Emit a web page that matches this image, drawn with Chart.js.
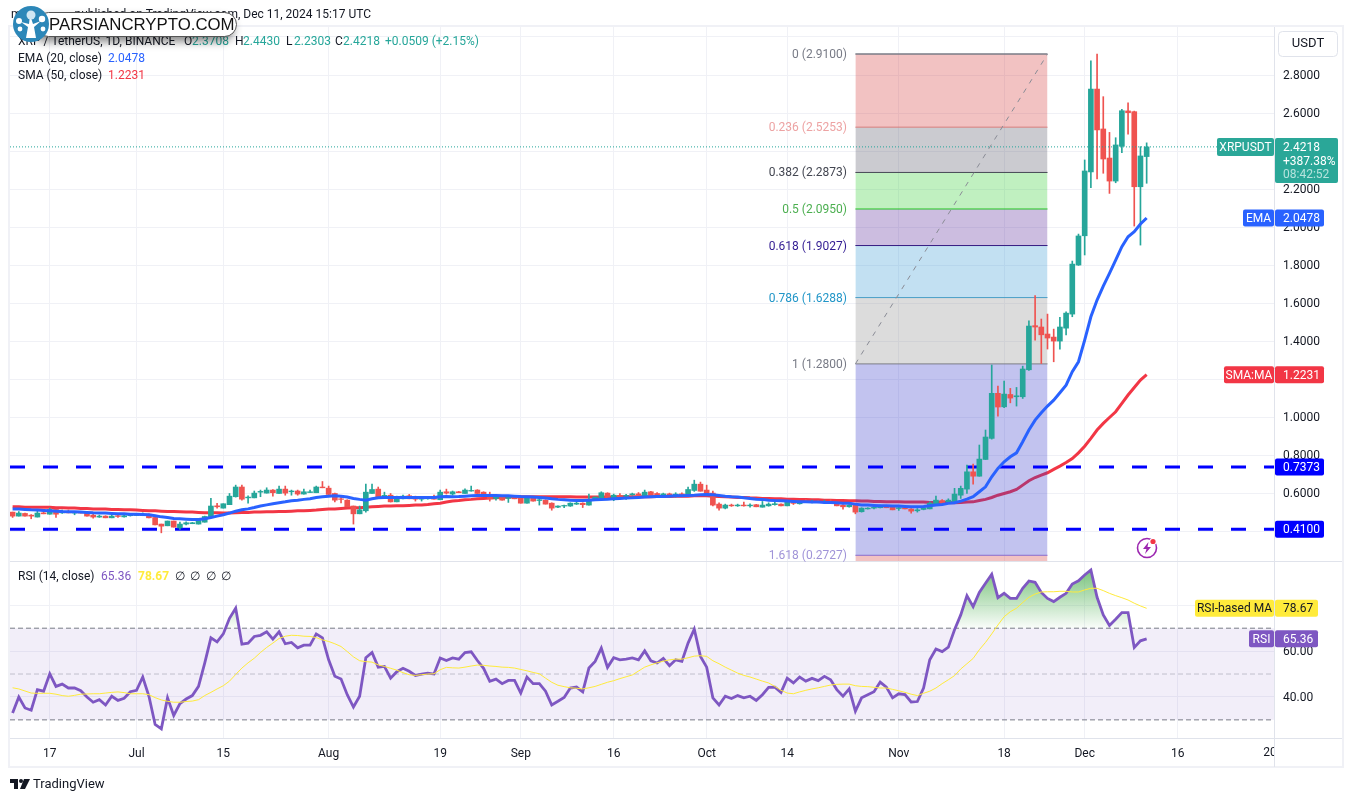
<!DOCTYPE html>
<html><head><meta charset="utf-8">
<style>
html,body{margin:0;padding:0;background:#fff;overflow:hidden}
#wrap{position:relative;width:1352px;height:802px}
canvas{position:absolute;left:0;top:0}
#pill{position:absolute;left:36px;top:12px;width:201px;height:25px;background:#fff;border:1px solid #555;border-radius:13px;box-shadow:-3px 5px 9px rgba(0,0,0,.45);box-sizing:border-box;font:500 16.8px "Liberation Sans",sans-serif;color:#111;line-height:24px;padding-left:12px;white-space:nowrap}
svg{position:absolute}
</style>
<script src="https://cdn.jsdelivr.net/npm/chart.js@4"></script>
</head><body><div id="wrap">
<canvas id="c" width="1352" height="802"></canvas>
<div id="pill">PARSIANCRYPTO.COM</div>
<svg style="left:12px;top:5px" width="38" height="38" viewBox="0 0 38 38"><circle cx="19" cy="19" r="18" fill="#2c87b8"/><path d="M14 33 L16 22 L9 17 L17 19 L18 10 L21 19 L29 16 L22 22 L24 33 Z" fill="#fff"/><circle cx="19" cy="10" r="4.5" fill="#cfe6f2"/><circle cx="7" cy="16" r="3" fill="#fff"/><circle cx="30" cy="14" r="3.2" fill="#fff"/><circle cx="8" cy="24" r="2.4" fill="#fff"/><circle cx="31" cy="24" r="2.4" fill="#fff"/></svg>
<svg style="left:1134px;top:535px" width="26" height="26" viewBox="0 0 26 26"><circle cx="13" cy="13" r="9.5" fill="none" stroke="#9c27b0" stroke-width="1.6"/><path d="M14.5 7 L9 14 L12.5 14 L11 19 L17 12 L13.5 12 Z" fill="#9c27b0"/><circle cx="19" cy="6.5" r="3.6" fill="#fff"/><circle cx="19" cy="6.5" r="2.6" fill="#f23645"/></svg>
<svg style="left:10px;top:779px" width="20" height="11" viewBox="0 0 20 11"><path d="M0 0H8V10H4V4H0Z" fill="#131722"/><circle cx="11" cy="2" r="2" fill="#131722"/><path d="M14 0H20L15 10H10Z" fill="#131722"/></svg>
</div>
<script>
const tickDays=[6,20,34,51,69,82,97,112,125,143,160,173,188];
const tickLabels=['17','Jul','15','Aug','19','Sep','16','Oct','14','Nov','18','Dec','16'];
const priceTicks=[0.4,0.6,0.8,1,1.2,1.4,1.6,1.8,2,2.2,2.4,2.6,2.8,3];
const rsiTicks=[40,60,80];
const openV=[.500,.479,.493,.484,.474,.496,.489,.514,.496,.503,
.495,.500,.495,.484,.474,.479,.470,.481,.475,.481,
.482,.482,.489,.472,.437,.428,.453,.417,.437,.439,
.437,.447,.474,.533,.521,.539,.581,.632,.575,.575,
.605,.600,.616,.598,.621,.607,.611,.595,.603,.602,
.632,.626,.598,.570,.563,.532,.491,.507,.598,.621,
.581,.589,.554,.570,.586,.577,.568,.570,.581,.565,
.607,.595,.607,.598,.611,.616,.605,.593,.572,.581,
.572,.581,.577,.547,.577,.561,.563,.547,.526,.532,
.532,.542,.547,.537,.563,.574,.600,.567,.588,.584,
.591,.596,.584,.607,.598,.588,.596,.589,.596,.589,
.614,.647,.616,.600,.542,.521,.537,.533,.537,.533,
.539,.526,.533,.539,.542,.533,.553,.544,.554,.551,
.554,.551,.556,.553,.537,.528,.537,.502,.517,.521,
.523,.533,.528,.519,.523,.516,.507,.514,.517,.544,
.561,.553,.549,.589,.621,.712,.689,.777,.888,1.125,
1.054,1.119,1.107,1.107,1.249,1.481,1.474,1.437,1.421,1.400,
1.468,1.542,1.800,1.954,2.290,2.726,2.516,2.363,2.242,2.425,
2.611,2.607,2.212,2.3708];
const highV=[.500,.503,.495,.487,.511,.507,.521,.516,.511,.511,
.502,.502,.496,.489,.484,.481,.489,.486,.486,.489,
.493,.496,.491,.472,.437,.453,.453,.447,.449,.446,
.458,.479,.572,.546,.544,.598,.642,.642,.586,.611,
.616,.628,.619,.637,.637,.616,.616,.621,.616,.637,
.661,.637,.600,.581,.565,.532,.532,.647,.647,.632,
.605,.598,.584,.589,.593,.584,.581,.577,.589,.616,
.621,.611,.609,.623,.637,.618,.607,.605,.589,.584,
.581,.582,.579,.575,.579,.581,.565,.549,.533,.537,
.549,.552,.549,.595,.581,.607,.602,.595,.598,.593,
.600,.603,.616,.609,.603,.600,.600,.602,.602,.632,
.668,.658,.642,.611,.549,.542,.542,.542,.553,.544,
.541,.556,.549,.551,.544,.560,.561,.558,.566,.563,
.561,.563,.566,.555,.540,.540,.539,.523,.523,.527,
.537,.536,.533,.532,.526,.518,.519,.526,.554,.584,
.566,.570,.625,.637,.747,.753,.853,.932,1.274,1.163,
1.189,1.151,1.156,1.268,1.507,1.639,1.516,1.542,1.463,1.525,
1.554,1.821,1.963,2.353,2.875,2.910,2.686,2.498,2.470,2.619,
2.654,2.610,2.423,2.4430];
const lowV=[.472,.479,.479,.465,.474,.491,.489,.472,.493,.496,
.486,.495,.479,.468,.472,.470,.470,.472,.474,.479,
.481,.481,.470,.433,.391,.428,.421,.409,.433,.439,
.437,.447,.474,.521,.521,.539,.579,.563,.547,.575,
.581,.600,.584,.598,.589,.589,.589,.595,.603,.602,
.628,.581,.553,.549,.528,.437,.491,.500,.598,.572,
.581,.553,.554,.570,.570,.558,.558,.568,.568,.565,
.595,.589,.602,.598,.610,.598,.588,.558,.563,.563,
.551,.570,.547,.547,.558,.537,.542,.510,.523,.524,
.530,.540,.524,.537,.563,.572,.568,.560,.578,.567,
.589,.589,.584,.588,.591,.586,.586,.579,.589,.589,
.609,.610,.593,.532,.510,.517,.530,.530,.531,.526,
.528,.526,.531,.537,.533,.533,.540,.542,.551,.549,
.549,.546,.553,.533,.516,.526,.491,.500,.516,.517,
.522,.523,.512,.509,.517,.495,.500,.512,.517,.544,
.543,.551,.545,.572,.598,.647,.689,.777,.884,1.005,
1.050,1.075,1.058,1.098,1.245,1.405,1.282,1.358,1.291,1.358,
1.432,1.528,1.798,1.853,2.207,2.253,2.283,2.177,2.233,2.391,
2.489,2.005,1.905,2.2303];
const closeV=[.479,.495,.479,.479,.495,.491,.514,.489,.503,.496,
.502,.495,.479,.474,.479,.470,.479,.477,.481,.484,
.486,.489,.470,.433,.426,.453,.421,.437,.444,.444,
.456,.477,.532,.528,.544,.584,.632,.568,.579,.600,
.609,.616,.602,.621,.600,.611,.595,.607,.607,.632,
.628,.593,.563,.567,.528,.491,.512,.605,.619,.581,
.588,.554,.577,.584,.570,.568,.574,.575,.568,.605,
.600,.607,.602,.616,.614,.598,.588,.570,.581,.563,
.577,.570,.547,.575,.558,.565,.542,.521,.532,.535,
.547,.547,.539,.565,.579,.602,.568,.589,.581,.588,
.596,.589,.605,.588,.591,.596,.586,.595,.589,.619,
.647,.610,.593,.537,.521,.537,.533,.537,.533,.537,
.528,.537,.542,.544,.533,.554,.546,.556,.551,.554,
.551,.554,.553,.533,.528,.537,.500,.521,.521,.525,
.535,.523,.512,.523,.517,.505,.512,.523,.547,.563,
.546,.563,.595,.625,.712,.689,.779,.895,1.125,1.053,
1.121,1.100,1.112,1.253,1.479,1.474,1.433,1.416,1.400,1.474,
1.547,1.805,1.953,2.295,2.726,2.511,2.358,2.242,2.432,2.612,
2.602,2.212,2.374,2.4218];
const ema20=[.517,.516,.514,.512,.511,.509,.507,.505,.503,.502,
.502,.500,.498,.496,.495,.495,.493,.491,.491,.489,
.489,.488,.486,.481,.475,.472,.467,.465,.463,.461,
.461,.465,.472,.479,.486,.495,.505,.512,.517,.524,
.532,.538,.544,.549,.554,.560,.563,.567,.570,.577,
.581,.584,.586,.584,.579,.572,.567,.563,.570,.575,
.577,.577,.577,.577,.577,.577,.577,.577,.577,.581,
.582,.581,.582,.584,.586,.588,.588,.588,.588,.586,
.586,.584,.582,.581,.579,.577,.574,.570,.567,.565,
.563,.561,.561,.563,.565,.567,.568,.570,.572,.574,
.575,.577,.579,.581,.582,.582,.584,.586,.586,.588,
.589,.591,.593,.591,.588,.584,.581,.579,.575,.572,
.568,.567,.563,.561,.560,.558,.556,.554,.554,.553,
.553,.551,.551,.549,.547,.546,.542,.538,.537,.535,
.533,.533,.532,.532,.530,.528,.528,.530,.533,.537,
.540,.546,.549,.558,.568,.581,.607,.633,.686,.730,
.765,.791,.812,.870,.932,.984,1.023,1.058,1.089,1.128,
1.168,1.239,1.291,1.405,1.528,1.616,1.689,1.756,1.826,1.897,
1.949,1.975,2.016,2.0478];
const sma50=[.528,.528,.526,.526,.526,.525,.525,.523,.523,.521,
.521,.519,.519,.517,.516,.516,.514,.514,.512,.512,
.511,.509,.507,.507,.505,.503,.503,.502,.500,.500,
.498,.496,.496,.496,.495,.495,.496,.498,.498,.500,
.500,.502,.502,.503,.503,.505,.507,.507,.509,.511,
.514,.516,.517,.519,.521,.523,.523,.525,.528,.530,
.532,.532,.533,.533,.535,.537,.538,.540,.544,.547,
.553,.558,.561,.565,.567,.570,.572,.574,.575,.577,
.579,.581,.581,.581,.581,.581,.581,.581,.581,.581,
.581,.579,.579,.579,.579,.579,.579,.579,.581,.581,
.581,.581,.581,.581,.582,.582,.582,.584,.584,.584,
.586,.586,.586,.584,.582,.581,.579,.577,.577,.575,
.574,.572,.572,.570,.570,.568,.568,.567,.567,.565,
.565,.563,.563,.561,.561,.560,.560,.558,.558,.556,
.556,.554,.554,.554,.553,.553,.553,.553,.551,.551,
.551,.551,.549,.551,.553,.554,.561,.567,.577,.589,
.598,.607,.619,.642,.665,.682,.695,.707,.725,.742,
.761,.782,.812,.847,.888,.932,.967,.998,1.028,1.072,
1.116,1.156,1.195,1.2231];
const rsi14=[33,40,35.2,34.2,43.2,42.5,50.1,44.6,45.6,43.9,
43.9,42.7,40,37.7,38.8,36.5,40.3,38.5,39.4,42.3,
42.9,48.7,40.3,28,26.1,39.6,31.9,37.1,39.1,40.6,
44.6,54.8,65.8,64,67.5,74.3,78.7,63,63.5,66.4,
66.9,68.4,65.2,68.4,63.2,63.8,61.4,62.6,62.6,67.5,
65.8,56.2,49,47.8,41,35.6,40.3,57.1,59.4,53,
53.3,48.2,51,52.5,51.2,49.4,50,50.4,50,57,
55.9,57,56.5,59.4,59.7,55.9,52.5,46.8,47.8,45.8,
47.2,47.2,41.7,48.7,45.8,45.8,42.5,36.5,38.1,39.8,
43.9,44.3,42.2,52.6,55.5,61.3,52.9,57.1,56.2,56.5,
57,56.2,60.1,55.8,54.8,56.8,53.6,56.2,55.5,63.5,
69.6,57.7,53,39.6,36.5,40.3,39.3,40.6,39.6,40.3,
38.5,41,44.2,44.3,42,48.2,46.1,48.7,46.9,48.1,
47.1,49,47.5,43.2,40.3,43.5,33.8,39.6,41,42.3,
46.5,44.3,39.6,41.4,41,37.8,38,43.9,56.2,60.9,
59.8,61.7,69.3,75.8,84.2,79.4,85.6,89.6,93.5,83.3,
85.2,83,83,87.4,90.6,90,85.6,83,81.6,83.5,
85.2,89.3,90.7,93.2,95.4,83.5,75.8,71.2,73.9,76.8,
76.8,61.6,64.5,65.36];
const rsiMa=[44,43.5,42.6,41.7,41.6,41.6,41.6,41.2,40.6,40.3,
40.7,41.2,41.3,41.4,41.4,41.7,42,42.2,41.9,41.4,
41.4,41.4,41,39.7,38.7,38.1,37.7,37.7,38,38.2,
38.8,40.6,42,43.5,44.9,46.9,49.8,52.6,54.9,56.9,
59.4,61.6,63.5,65.5,66.5,66.9,66.8,66.5,66.4,65.9,
64.9,64.2,63.2,62,59.8,57.5,55.8,55.4,55.2,54,
53.3,52.5,51.7,50.6,49.7,49.4,49.7,50,50.1,51.9,
52.9,52.7,52.6,53,53.5,53.9,53.8,53.5,53.3,53,
52.9,52.6,52,51.4,50.7,50.1,48.2,46.4,45.1,44.5,
44,43.8,43.5,44,44.6,45.5,46.4,47.1,48,48.8,
49.6,51.3,53,54,54.9,55.6,56.2,56.5,56.5,57.1,
57.8,58,57.7,55.8,54.5,53,51.7,50.4,49.4,48.7,
47.8,46.9,46.1,44.6,42.9,41.7,41.4,42.2,42.9,43.5,
44,44.6,45.2,45.5,45.6,45.6,44.9,44.6,44.5,44.2,
43.9,43.9,43.3,42.7,42,41.2,40.6,41.6,42.5,43.9,
45.8,47.5,49.3,52.2,54.5,56.8,60.6,63.8,67.5,71.4,
75,77.2,78.7,81.2,83.5,84.9,85.8,85.9,85.9,86.1,
86.1,85.8,85.8,86.7,87.4,87.4,86.4,85.2,84.2,83.3,
82.3,80.9,79.7,78.67];
const fibLevels=[2.91,2.5253,2.2873,2.095,1.9027,1.6288,1.28,0.2727];
const fibNames=['0 (2.9100)','0.236 (2.5253)','0.382 (2.2873)','0.5 (2.0950)','0.618 (1.9027)','0.786 (1.6288)','1 (1.2800)','1.618 (0.2727)'];
const fibLineColors=['#787b86','#d48a8a','#434651','#22c322','#311b7e','#4a9fc4','#787b86','#9575cd'];
const fibTextColors=['#787b86','#eda3a3','#434651','#4caf50','#311b92','#2196c8','#787b86','#a094d8'];
const fibFills=['rgba(212,52,52,.3)','rgba(82,82,98,.3)','rgba(45,205,45,.3)','rgba(85,35,152,.3)','rgba(52,152,212,.3)','rgba(138,138,138,.3)','rgba(52,55,202,.3)','rgba(212,52,52,.3)'];
const fibSpan=[136,167];
const hLevels=[0.7373,0.41];
const lastPrice=2.4218;
const emaLast=2.0478, smaLast=1.2231, rsiLast=65.36, rsiMaLast=78.67;

const FONT='Roboto,sans-serif';
const UP='#26a69a',DOWN='#ef5350';
const X0=-0.42,X1=203.55;
const days=openV.map((_,i)=>i);
const series=(arr)=>days.map(i=>({x:i,y:arr[i]}));
const span=(v)=>[{x:X0,y:v},{x:X1,y:v}];
const canvas=document.getElementById('c');
const g=canvas.getContext('2d');
const grad=g.createLinearGradient(0,572,0,628);
grad.addColorStop(0,'rgba(76,175,80,.72)');
grad.addColorStop(1,'rgba(76,175,80,.03)');

const ds=[];
ds.push({type:'line',data:series(sma50),yAxisID:'y',borderColor:'#f23645',borderWidth:3,pointRadius:0,order:70});
fibLevels.forEach((lv,i)=>{
  ds.push({type:'line',data:[{x:fibSpan[0],y:lv},{x:fibSpan[1],y:lv}],yAxisID:'y',borderColor:fibLineColors[i],borderWidth:i==0?1.5:1,pointRadius:0,
    fill:{target:{value:i<fibLevels.length-1?fibLevels[i+1]:0.2421}},backgroundColor:fibFills[i],order:60});
});
ds.push({type:'line',data:[{x:fibSpan[0],y:fibLevels[6]},{x:fibSpan[1],y:fibLevels[0]}],yAxisID:'y',borderColor:'#8a8c96',borderWidth:1,borderDash:[5,6],pointRadius:0,order:55});
hLevels.forEach(v=>ds.push({type:'line',data:span(v),yAxisID:'y',borderColor:'#0000ff',borderWidth:3,borderDash:[15,18],pointRadius:0,order:50}));
ds.push({type:'bar',data:days.map(i=>({x:i,y:[lowV[i],highV[i]]})),yAxisID:'y',barThickness:1,grouped:false,borderWidth:0,backgroundColor:days.map(i=>closeV[i]>=openV[i]?UP:DOWN),order:40});
ds.push({type:'bar',data:days.map(i=>({x:i,y:[openV[i],closeV[i]]})),yAxisID:'y',barThickness:5,grouped:false,borderWidth:0,backgroundColor:days.map(i=>closeV[i]>=openV[i]?UP:DOWN),order:30});
ds.push({type:'line',data:series(ema20),yAxisID:'y',borderColor:'#2962ff',borderWidth:3,pointRadius:0,order:20});
ds.push({type:'line',data:span(lastPrice),yAxisID:'y',borderColor:'#26a69a',borderWidth:1,borderDash:[1,2],pointRadius:0,order:10});
ds.push({type:'line',data:span(70),yAxisID:'yR',borderColor:'#787b86',borderWidth:1,borderDash:[5,3],pointRadius:0,fill:{target:{value:30}},backgroundColor:'rgba(126,87,194,.1)',order:9});
ds.push({type:'line',data:span(50),yAxisID:'yR',borderColor:'rgba(120,123,134,.4)',borderWidth:1,borderDash:[5,3],pointRadius:0,order:8});
ds.push({type:'line',data:span(30),yAxisID:'yR',borderColor:'#787b86',borderWidth:1,borderDash:[5,3],pointRadius:0,order:7});
ds.push({type:'line',data:series(rsi14),yAxisID:'yR',borderColor:'#7e57c2',borderWidth:2.8,pointRadius:0,fill:{target:{value:70},above:grad,below:'rgba(0,0,0,0)'},order:6});
ds.push({type:'line',data:series(rsiMa),yAxisID:'yR',borderColor:'#ffeb3b',borderWidth:1,pointRadius:0,order:5});

function text(c,s,x,y,color,font,align){c.fillStyle=color;c.font=font||('12px '+FONT);c.textAlign=align||'left';c.textBaseline='middle';c.fillText(s,x,y+1);}
function box(c,x,y,w,h,color,r){c.fillStyle=color;c.beginPath();c.roundRect(x,y,w,h,r||2);c.fill();}

const chrome={id:'chrome',
 beforeDraw(ch){const c=ch.ctx;c.fillStyle='#fff';c.fillRect(0,0,1352,802);},
 afterDraw(ch){
  const c=ch.ctx,y=ch.scales.y,yR=ch.scales.yR,x=ch.scales.x;
  c.save();
  c.strokeStyle='#f0f1f6';c.lineWidth=2;c.strokeRect(9,26,1334,741);
  c.strokeStyle='#e0e3eb';c.lineWidth=1;
  c.beginPath();c.moveTo(10,561.5);c.lineTo(1342,561.5);c.moveTo(10,738.5);c.lineTo(1342,738.5);c.moveTo(1274.5,27);c.lineTo(1274.5,767);c.stroke();
  c.save();c.beginPath();c.rect(10,739,1264,28);c.clip();text(c,'2025',x.getPixelForValue(204),752,'#131722','12px '+FONT,'center');c.restore();
  text(c,'m',11,14,'#131722','12px '+FONT);
  text(c,'published on TradingView.com, Dec 11, 2024 15:17 UTC',371,14,'#131722','12px '+FONT,'right');
  const T='#26a69a',F='12px '+FONT;
  text(c,'XRP / TetherUS, 1D, BINANCE',18,41,'#131722',F);
  [['O','2.3708',184],['H','2.4430',235],['L','2.2303',286],['C','2.4218',335]].forEach(a=>{text(c,a[0],a[2],41,'#131722',F);text(c,a[1],a[2]+8,41,T,F);});
  text(c,'+0.0509 (+2.15%)',385,41,T,F);
  text(c,'EMA (20, close)',18,58,'#131722',F);text(c,'2.0478',108,58,'#2962ff',F);
  text(c,'SMA (50, close)',18,75,'#131722',F);text(c,'1.2231',108,75,'#f23645',F);
  text(c,'RSI (14, close)',18,576,'#131722',F);text(c,'65.36',101,576,'#7e57c2',F);text(c,'78.67',138,576,'#ffeb3b','bold 12px '+FONT);
  ['∅','∅','∅','∅'].forEach((s,i)=>text(c,s,175+i*15.4,576,'#131722',F));
  text(c,'TradingView',33,784,'#131722','13px '+FONT);
  fibLevels.forEach((lv,i)=>text(c,fibNames[i],847,y.getPixelForValue(lv),fibTextColors[i],F,'right'));
  c.strokeStyle='#e0e3eb';c.lineWidth=1;c.beginPath();c.roundRect(1278.5,31.5,59,25,4);c.stroke();
  text(c,'USDT',1308,43,'#131722','13px '+FONT,'center');
  const py=y.getPixelForValue(lastPrice);
  box(c,1217,py-9,57,18,'#2aa798');text(c,'XRPUSDT',1245.5,py,'#fff',F,'center');
  box(c,1275,py-9,63,45,'#2aa798');
  text(c,'2.4218',1283,py,'#fff',F);text(c,'+387.38%',1283,py+14,'#fff',F);text(c,'08:42:52',1283,py+27,'#b6e3dd',F);
  [['EMA',emaLast,'#2962ff',1243],['SMA:MA',smaLast,'#f23645',1224]].forEach(a=>{
    const yy=y.getPixelForValue(a[1]);box(c,a[3],yy-8.5,1274-a[3],17,a[2]);text(c,a[0],(a[3]+1274)/2,yy,'#fff',F,'center');
    box(c,1275,yy-8.5,49,17,a[2]);text(c,a[1].toFixed(4),1283,yy,'#fff',F);
  });
  hLevels.forEach(v=>{const yy=y.getPixelForValue(v);box(c,1275,yy-8.5,49,17,'#0000ff');text(c,v.toFixed(4),1283,yy,'#fff',F);});
  const my=yR.getPixelForValue(rsiMaLast);
  box(c,1195,my-8.5,79,17,'#ffeb3b');text(c,'RSI-based MA',1234.5,my,'#131722',F,'center');
  box(c,1275,my-8.5,43,17,'#ffeb3b');text(c,rsiMaLast.toFixed(2),1283,my,'#131722',F);
  const ry=yR.getPixelForValue(rsiLast);
  box(c,1249,ry-8.5,25,17,'#7e57c2');text(c,'RSI',1261.5,ry,'#fff',F,'center');
  box(c,1275,ry-8.5,43,17,'#7e57c2');text(c,rsiLast.toFixed(2),1283,ry,'#fff',F);
  c.restore();
 }};

new Chart(canvas,{
 type:'bar',
 data:{datasets:ds},
 plugins:[chrome],
 options:{responsive:false,animation:false,events:[],devicePixelRatio:1,
  layout:{padding:{left:10,top:27,right:10,bottom:35}},
  plugins:{legend:{display:false},tooltip:{enabled:false}},
  elements:{line:{tension:0,borderCapStyle:'butt'}},
  scales:{
   x:{type:'linear',axis:'x',position:'bottom',min:X0,max:X1,offset:false,
     grid:{offset:false,color:'#f0f1f6',drawTicks:false},border:{display:false},
     afterFit(s){s.height=29;},
     afterBuildTicks(s){s.ticks=tickDays.map(v=>({value:v}));},
     ticks:{autoSkip:false,maxRotation:0,padding:9,color:'#131722',font:{family:FONT,size:12},
       callback(v){return tickLabels[tickDays.indexOf(v)];}}},
   y:{type:'linear',axis:'y',position:'right',stack:'panes',stackWeight:534.5,weight:0,min:0.2421,max:3.0526,
     grid:{color:'#f0f1f6',drawTicks:false},border:{display:false},
     afterFit(s){s.width=68;},
     afterBuildTicks(s){s.ticks=priceTicks.map(v=>({value:v}));},
     ticks:{autoSkip:false,padding:9,labelOffset:1,color:'#131722',font:{family:FONT,size:12},callback(v){return v===3?'':v.toFixed(4);}}},
   yR:{type:'linear',axis:'y',position:'right',stack:'panes',stackWeight:177,weight:1,min:22.09,max:99.26,
     grid:{color:'#f0f1f6',drawTicks:false},border:{display:false},
     afterFit(s){s.width=68;},
     afterBuildTicks(s){s.ticks=rsiTicks.map(v=>({value:v}));},
     ticks:{autoSkip:false,padding:9,labelOffset:1,color:'#131722',font:{family:FONT,size:12},callback(v){return v===80?'':v.toFixed(2);}}}
  }
 }
});
</script>
</body></html>
